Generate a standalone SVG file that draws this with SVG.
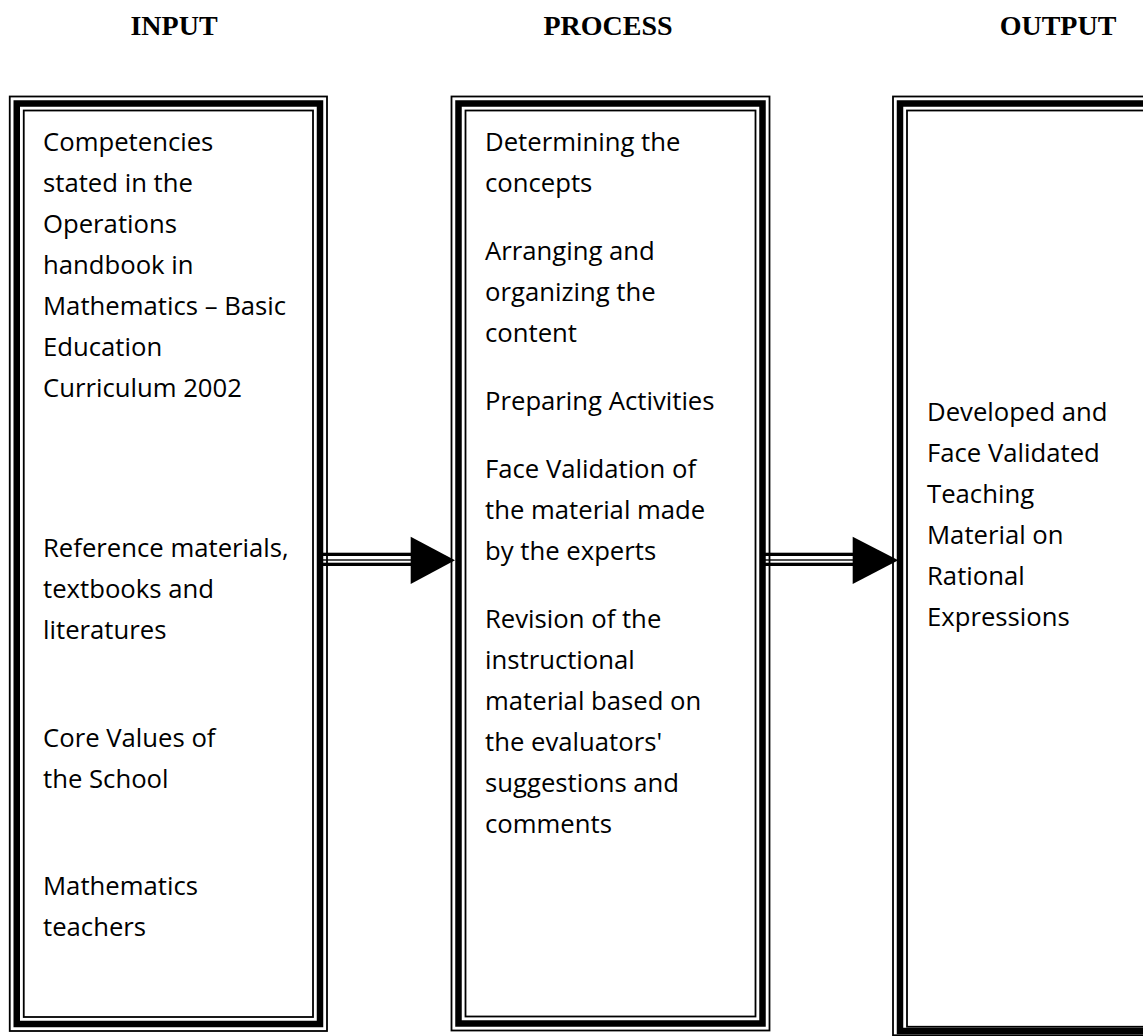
<svg xmlns="http://www.w3.org/2000/svg" width="1143" height="1036" viewBox="0 0 1143 1036">
  <style>
    .hdr { font-family: "Liberation Serif", "Times New Roman", serif; font-weight: bold; font-size: 28px; fill: #000; text-anchor: middle; }
    .txt { font-family: "Open Sans", "Noto Sans", sans-serif; font-size: 25.7px; fill: #000; }
    .thin { fill: none; stroke: #000; stroke-width: 1.8; }
    .thick { fill: none; stroke: #000; stroke-width: 6.5; }
    .shaft { fill: #000; }
  </style>

  <!-- column headings -->
  <g id="headings">
    <text class="hdr" x="174" y="35">INPUT</text>
    <text class="hdr" x="608" y="35">PROCESS</text>
    <text class="hdr" x="1058" y="35">OUTPUT</text>
  </g>

  <!-- INPUT box: thin / thick / thin border -->
  <g id="input">
    <rect class="thin" x="9.75" y="96.5" width="317.25" height="934.5"/>
    <rect class="thick" x="16.75" y="103.5" width="303.25" height="920.5"/>
    <rect class="thin" x="23.75" y="110.5" width="289.25" height="906.5"/>
    <g class="txt">
      <text x="43" y="151">Competencies</text>
      <text x="43" y="192">stated in the</text>
      <text x="43" y="233">Operations</text>
      <text x="43" y="274">handbook in</text>
      <text x="43" y="315">Mathematics – Basic</text>
      <text x="43" y="356">Education</text>
      <text x="43" y="397">Curriculum 2002</text>
      <text x="43" y="557">Reference materials,</text>
      <text x="43" y="598">textbooks and</text>
      <text x="43" y="639">literatures</text>
      <text x="43" y="747">Core Values of</text>
      <text x="43" y="788">the School</text>
      <text x="43" y="895">Mathematics</text>
      <text x="43" y="936">teachers</text>
    </g>
  </g>

  <!-- PROCESS box -->
  <g id="process">
    <rect class="thin" x="451.5" y="96.5" width="318" height="934"/>
    <rect class="thick" x="458.5" y="103.5" width="304" height="920"/>
    <rect class="thin" x="465.5" y="110.5" width="290" height="906"/>
    <g class="txt">
      <text x="485" y="151">Determining the</text>
      <text x="485" y="192">concepts</text>
      <text x="485" y="260">Arranging and</text>
      <text x="485" y="301">organizing the</text>
      <text x="485" y="342">content</text>
      <text x="485" y="410">Preparing Activities</text>
      <text x="485" y="478">Face Validation of</text>
      <text x="485" y="519">the material made</text>
      <text x="485" y="560">by the experts</text>
      <text x="485" y="628">Revision of the</text>
      <text x="485" y="669">instructional</text>
      <text x="485" y="710">material based on</text>
      <text x="485" y="751">the evaluators'</text>
      <text x="485" y="792">suggestions and</text>
      <text x="485" y="833">comments</text>
    </g>
  </g>

  <!-- OUTPUT box (runs past the right edge) -->
  <g id="output">
    <rect class="thin" x="893" y="96.5" width="270" height="938.75"/>
    <rect class="thick" x="900" y="103.5" width="256" height="927.5"/>
    <rect class="thin" x="907" y="110.5" width="242" height="916.25"/>
    <g class="txt">
      <text x="927" y="421">Developed and</text>
      <text x="927" y="462">Face Validated</text>
      <text x="927" y="503">Teaching</text>
      <text x="927" y="544">Material on</text>
      <text x="927" y="585">Rational</text>
      <text x="927" y="626">Expressions</text>
    </g>
  </g>

  <!-- connectors: triple-line shafts with solid triangular heads -->
  <g id="connectors">
    <g id="input-to-process">
      <rect class="shaft" x="322" y="552.7" width="90" height="3.3"/>
      <rect class="shaft" x="322" y="559.3" width="90" height="1.4"/>
      <rect class="shaft" x="322" y="562.7" width="90" height="3.3"/>
      <polygon points="410.7,536.7 410.7,584 455,560.3" fill="#000"/>
    </g>
    <g id="process-to-output">
      <rect class="shaft" x="763" y="552.7" width="91" height="3.3"/>
      <rect class="shaft" x="763" y="559.3" width="91" height="1.4"/>
      <rect class="shaft" x="763" y="562.7" width="91" height="3.3"/>
      <polygon points="852.7,536.7 852.7,584 898.3,560.3" fill="#000"/>
    </g>
  </g>
</svg>
